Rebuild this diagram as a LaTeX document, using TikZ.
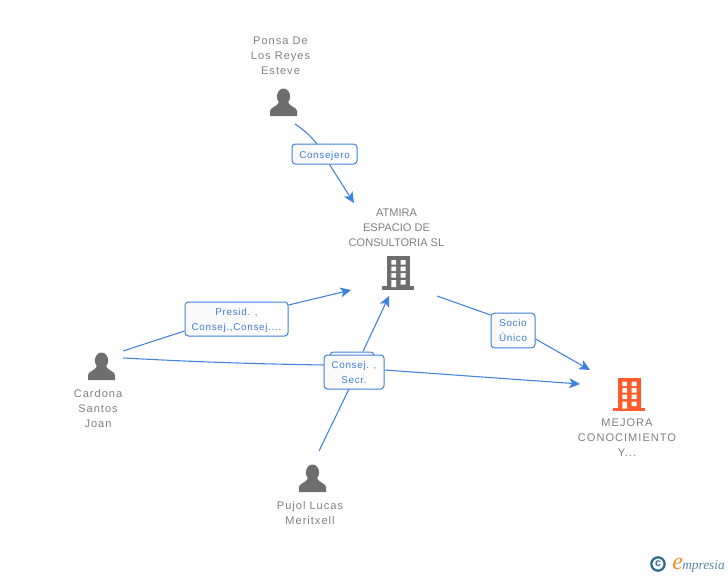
\documentclass[tikz,border=0pt]{standalone}
\usepackage{fontspec}
\setmainfont{Liberation Sans}
\newfontfamily\logofont{Liberation Serif}
\newfontfamily\spacedname[LetterSpace=9]{Liberation Sans}
\newfontfamily\spacedlabel[LetterSpace=7]{Liberation Sans}
\usetikzlibrary{arrows.meta}
\definecolor{edgeblue}{HTML}{3F82DE}
\definecolor{labelblue}{HTML}{3D7FD9}
\definecolor{icongray}{HTML}{6E6E6E}
\definecolor{textgray}{HTML}{808080}
\definecolor{firmorange}{HTML}{FF5A2C}
\definecolor{logoteal}{HTML}{2F6B8A}
\definecolor{logoorange}{HTML}{F28C28}
\newcommand{\lowerline}[1]{\raisebox{-1.2pt}[6pt][2pt]{#1}}
\tikzset{
  x=0.75pt,y=-0.75pt,
  nametext/.style={text=textgray,align=center,inner sep=0pt,font=\spacedname\fontsize{8.3}{11.25}\selectfont},
  capstext/.style={text=textgray,align=center,inner sep=0pt,font=\fontsize{8.3}{11.25}\selectfont},
  linklabel/.style={draw=edgeblue,line width=0.75pt,rounded corners=2.5pt,
    left color=black!2.5,right color=white,text=labelblue,align=center,inner sep=0pt,
    font=\spacedlabel\fontsize{7.4}{11.25}\selectfont},
  backlabel/.style={draw=edgeblue,line width=0.75pt,rounded corners=2.5pt,fill=white,inner sep=0pt},
  linkline/.style={draw=edgeblue,line width=0.8pt},
  linkarrow/.style={linkline,-{Stealth[length=8pt,width=7.5pt,inset=2pt]}},
  personicon/.pic={
    \fill[icongray] (0,7.5) ellipse [x radius=6.6,y radius=8];
    \fill[icongray] (-13.5,27) -- (-13.5,22) .. controls (-13.5,18.5) and (-6.5,18) .. (-4.5,13)
      -- (4.5,13) .. controls (6.5,18) and (13.5,18.5) .. (13.5,22) -- (13.5,27) -- cycle;
  },
  pics/buildingicon/.style={code={
    \fill[#1] (-11,0) rectangle (12,31);
    \fill[#1] (-16,30) rectangle (16,33.5);
    \fill[white] (-6.7,4) rectangle (-2,8.5) (2.7,4) rectangle (7.7,8.5)
      (-6.7,10.5) rectangle (-2,15) (2.7,10.5) rectangle (7.7,15)
      (-6.7,17) rectangle (-2,21.5) (2.7,17) rectangle (7.7,21.5)
      (-6.7,24) rectangle (-2,31) (2.7,24) rectangle (7.7,28.5);
  }},
}
\begin{document}
\begin{tikzpicture}
\useasboundingbox (0,0) rectangle (728,575);
% free ends
\coordinate (ponsaOut) at (295,124);
\coordinate (atmiraInTop) at (354,203);
\coordinate (cardonaOutA) at (123,351);
\coordinate (atmiraInLeft) at (351,290);
\coordinate (pujolOut) at (319,451);
\coordinate (atmiraInBottom) at (389,296);
\coordinate (cardonaOutB) at (123,358);
\coordinate (mejoraInLeft) at (580,384);
\coordinate (atmiraOut) at (437,296);
\coordinate (mejoraInTop) at (590,370);
% labels
\node[backlabel,minimum width=33pt,minimum height=13.5pt] (secrBack) at (352,361) {};
\node[linklabel,minimum width=48.75pt,minimum height=15pt] (lblConsejero) at (324.5,154) {\lowerline{Consejero}};
\node[linklabel,minimum width=77.25pt,minimum height=25.5pt] (lblPresid) at (236.5,319) {\lowerline{Presid. ,}\\\lowerline{Consej.,Consej....}};
\node[linklabel,minimum width=45pt,minimum height=25.5pt] (lblSecr) at (354,372) {Consej. ,\\Secr.};
\node[linklabel,minimum width=33pt,minimum height=26pt] (lblSocio) at (513,330.5) {Socio\\Único};
% connectors
\draw[linkline] (ponsaOut) to[bend left=8] (317,144);
\draw[linkarrow] (lblConsejero.south) ++(5,0) -- (atmiraInTop);
\draw[linkline] (cardonaOutA) -- (lblPresid.west |- 0,331);
\draw[linkarrow] (lblPresid.east |- 0,305) -- (atmiraInLeft);
\draw[linkline] (pujolOut) -- (349,389);
\draw[linkarrow] (secrBack.north) ++(11,0) -- (atmiraInBottom);
\draw[linkline] (cardonaOutB) to[bend left=-1] (lblSecr.west |- 0,365);
\draw[linkarrow] (lblSecr.east |- 0,370) -- (mejoraInLeft);
\draw[linkline] (atmiraOut) -- (lblSocio.west |- 0,315);
\draw[linkarrow] (lblSocio.east |- 0,339) -- (mejoraInTop);
% names
\node[nametext] (nPonsa) at (280.5,55.5) {Ponsa De\\Los Reyes\\Esteve};
\node[capstext] (nAtmira) at (396.5,227.5) {ATMIRA\\ESPACIO DE\\CONSULTORIA SL};
\node[nametext] (nCardona) at (98,408.5) {Cardona\\Santos\\Joan};
\node[nametext] (nPujol) at (310,513) {Pujol Lucas\\Meritxell};
\node[nametext] (nMejora) at (627,437.5) {MEJORA\\CONOCIMIENTO\\Y...};
% icons
\pic (iPonsa) at (283.5,89) {personicon};
\pic (iCardona) at (101.5,353) {personicon};
\pic (iPujol) at (312.5,465) {personicon};
\pic (iAtmira) at (398,256) {buildingicon=icongray};
\pic (iMejora) at (629,377.5) {buildingicon=firmorange};
% logo
\node[circle,draw=logoteal,line width=1.7pt,minimum size=10pt,inner sep=0pt,text=logoteal,font=\bfseries\fontsize{8}{8}\selectfont] (logoC) at (658,564) {c};
\node[anchor=base west,inner sep=0pt,text=logoorange,font=\logofont\itshape\fontsize{18}{18}\selectfont] (logoE) at (672,569) {e};
\node[anchor=base west,inner sep=0pt,text=logoteal!80,font=\logofont\itshape\fontsize{10}{10}\selectfont] (logoT) at (682,569) {mpresia};
\end{tikzpicture}
\end{document}
